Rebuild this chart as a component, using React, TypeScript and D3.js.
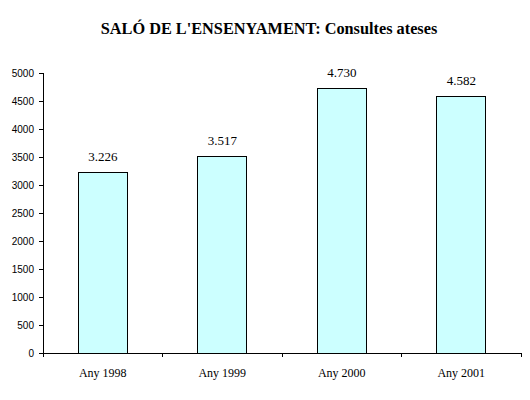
import { useEffect, useRef } from 'react'
import * as d3 from 'd3'

const TITLE = "SALÓ DE L'ENSENYAMENT: Consultes ateses"
const CATEGORIES = ['Any 1998', 'Any 1999', 'Any 2000', 'Any 2001']
const VALUES = [3226, 3517, 4730, 4582]
const LABELS = ['3.226', '3.517', '4.730', '4.582']
const Y_TICKS = [0, 500, 1000, 1500, 2000, 2500, 3000, 3500, 4000, 4500, 5000]

export default function App() {
  const ref = useRef<SVGSVGElement>(null)

  useEffect(() => {
    if (!ref.current) return
    const W = 530, H = 400
    const mL = 43, mR = 9, mT = 73, mB = 47
    const iW = W - mL - mR, iH = H - mT - mB

    const svg = d3.select(ref.current)
    svg.selectAll('*').remove()
    svg.attr('width', W).attr('height', H)
    svg.append('rect').attr('width', W).attr('height', H).attr('fill', '#fff')

    svg.append('text').attr('x', 269).attr('y', 34).attr('text-anchor', 'middle')
      .attr('font-family', 'Liberation Serif, Times New Roman, serif')
      .attr('font-size', 16.3).attr('font-weight', 'bold').text(TITLE)

    const g = svg.append('g').attr('transform', `translate(${mL},${mT})`)
    const x = d3.scaleBand().domain(CATEGORIES).range([0, iW]).paddingInner(0.59).paddingOuter(0.295)
    const y = d3.scaleLinear().domain([0, 5000]).range([iH, 0])

    // bars
    g.selectAll('rect.bar').data(VALUES).join('rect').attr('class', 'bar')
      .attr('x', (_, i) => x(CATEGORIES[i])!).attr('width', x.bandwidth())
      .attr('y', d => y(d)).attr('height', d => iH - y(d))
      .attr('fill', '#ccffff').attr('stroke', '#000').attr('stroke-width', 1)
      .attr('shape-rendering', 'crispEdges')

    g.selectAll('text.val').data(LABELS).join('text').attr('class', 'val')
      .attr('x', (_, i) => x(CATEGORIES[i])! + x.bandwidth() / 2)
      .attr('y', (_, i) => y(VALUES[i]) - 11)
      .attr('text-anchor', 'middle')
      .attr('font-family', 'Liberation Serif, Times New Roman, serif').attr('font-size', 13)
      .text(d => d)

    // y axis
    const ya = g.append('g').call(d3.axisLeft(y).tickValues(Y_TICKS).tickSize(4).tickPadding(5).tickFormat(d3.format('d')))
    ya.selectAll('text').attr('font-family', 'Liberation Sans, Arial, sans-serif').attr('font-size', 10).attr('fill', '#000')
    ya.selectAll('line,path').attr('stroke', '#000').attr('shape-rendering', 'crispEdges')
    ya.select('.domain').attr('d', `M0,${iH}V0`)

    // x axis
    const xa = g.append('g').attr('transform', `translate(0,${iH})`)
    xa.append('line').attr('x1', 0).attr('x2', iW).attr('stroke', '#000').attr('shape-rendering', 'crispEdges')
    xa.selectAll('line.tk').data(d3.range(CATEGORIES.length + 1)).join('line').attr('class', 'tk')
      .attr('x1', i => i * iW / CATEGORIES.length).attr('x2', i => i * iW / CATEGORIES.length)
      .attr('y1', 0).attr('y2', 4).attr('stroke', '#000').attr('shape-rendering', 'crispEdges')
    xa.selectAll('text').data(CATEGORIES).join('text')
      .attr('x', d => x(d)! + x.bandwidth() / 2).attr('y', 24)
      .attr('text-anchor', 'middle')
      .attr('font-family', 'Liberation Serif, Times New Roman, serif').attr('font-size', 12)
      .text(d => d)
  }, [])

  return (
    <div style={{ position: 'absolute', left: 0, top: 0 }}>
      <svg ref={ref} style={{ display: 'block' }} />
    </div>
  )
}
